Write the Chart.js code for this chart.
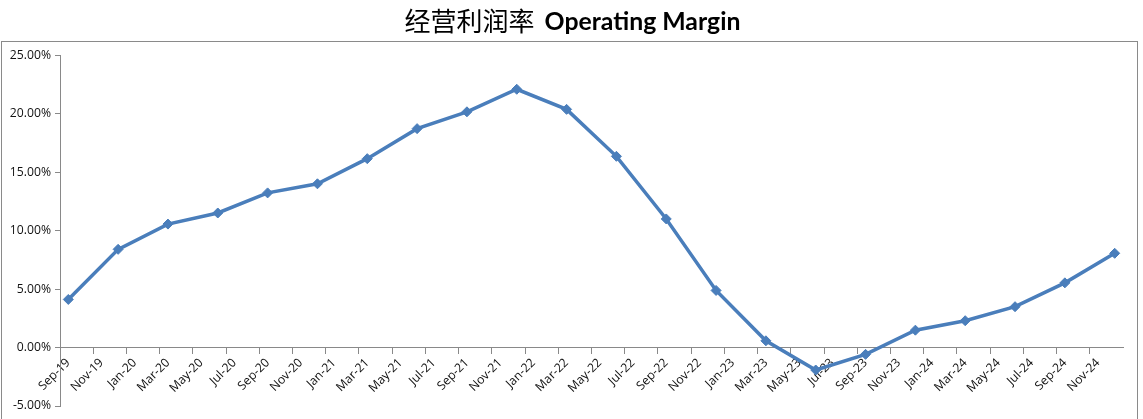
<!DOCTYPE html>
<html>
<head>
<meta charset="utf-8">
<script src="https://cdn.jsdelivr.net/npm/chart.js@4/dist/chart.umd.min.js"></script>
<style>
html,body{margin:0;padding:0;background:#fff;}
#wrap{width:1143px;height:419px;position:relative;}
</style>
</head>
<body>
<div id="wrap"><canvas id="c" width="1143" height="419"></canvas></div>
<script>
const titleCn = '经营利润率';
const titleEn = 'Operating Margin';

// monthly categories of the date axis
const months = [
  'Sep-19','Oct-19','Nov-19','Dec-19',
  'Jan-20','Feb-20','Mar-20','Apr-20','May-20','Jun-20','Jul-20','Aug-20','Sep-20','Oct-20','Nov-20','Dec-20',
  'Jan-21','Feb-21','Mar-21','Apr-21','May-21','Jun-21','Jul-21','Aug-21','Sep-21','Oct-21','Nov-21','Dec-21',
  'Jan-22','Feb-22','Mar-22','Apr-22','May-22','Jun-22','Jul-22','Aug-22','Sep-22','Oct-22','Nov-22','Dec-22',
  'Jan-23','Feb-23','Mar-23','Apr-23','May-23','Jun-23','Jul-23','Aug-23','Sep-23','Oct-23','Nov-23','Dec-23',
  'Jan-24','Feb-24','Mar-24','Apr-24','May-24','Jun-24','Jul-24','Aug-24','Sep-24','Oct-24','Nov-24','Dec-24'
];

// labels shown on the x axis
const tickLabels = [
  'Sep-19','Nov-19','Jan-20','Mar-20','May-20','Jul-20','Sep-20','Nov-20',
  'Jan-21','Mar-21','May-21','Jul-21','Sep-21','Nov-21','Jan-22','Mar-22',
  'May-22','Jul-22','Sep-22','Nov-22','Jan-23','Mar-23','May-23','Jul-23',
  'Sep-23','Nov-23','Jan-24','Mar-24','May-24','Jul-24','Sep-24','Nov-24'
];

// quarterly observations
const quarters = [
  'Sep-19','Dec-19','Mar-20','Jun-20','Sep-20','Dec-20','Mar-21','Jun-21','Sep-21','Dec-21','Mar-22',
  'Jun-22','Sep-22','Dec-22','Mar-23','Jun-23','Sep-23','Dec-23','Mar-24','Jun-24','Sep-24','Dec-24'
];
const marginPct = [
  4.12, 8.41, 10.57, 11.52, 13.24, 14.02, 16.17, 18.74, 20.18, 22.11, 20.39,
  16.37, 11.01, 4.89, 0.58, -1.92, -0.58, 1.49, 2.30, 3.50, 5.54, 8.07
];

const yTicks = [-5, 0, 5, 10, 15, 20, 25];

const seriesData = months.map(m => {
  const i = quarters.indexOf(m);
  return i >= 0 ? marginPct[i] : null;
});

const axisColor = '#898989';
const blue = '#4a7ebb';

const frameAndTitle = {
  id: 'frameAndTitle',
  beforeDraw(chart) {
    const ctx = chart.ctx;
    ctx.save();
    ctx.fillStyle = '#fff';
    ctx.fillRect(0, 0, chart.width, chart.height);
    ctx.strokeStyle = '#8a8a8a';
    ctx.lineWidth = 1;
    ctx.strokeRect(1.5, 41.5, 1136, 420);
    ctx.restore();
  },
  afterDraw(chart) {
    const ctx = chart.ctx;
    ctx.save();
    const cnFont = '26px "Noto Sans CJK SC"';
    ctx.font = 'bold 22px Lato';
    const w22 = ctx.measureText(titleEn).width;
    const enSize = 22 * 196 / w22;
    const enFont = 'bold ' + enSize.toFixed(2) + 'px Lato';
    ctx.font = cnFont;
    const cnW = ctx.measureText(titleCn).width;
    ctx.font = enFont;
    const enW = ctx.measureText(titleEn).width;
    const gap = 10;
    const total = cnW + gap + enW;
    const x0 = 572.5 - total / 2;
    ctx.fillStyle = '#000';
    ctx.textBaseline = 'alphabetic';
    ctx.textAlign = 'left';
    ctx.font = cnFont;
    ctx.fillText(titleCn, x0, 31);
    ctx.font = enFont;
    ctx.fillText(titleEn, x0 + cnW + gap, 30);
    ctx.restore();
  }
};

new Chart(document.getElementById('c'), {
  type: 'line',
  data: {
    labels: months,
    datasets: [{
      label: titleEn,
      data: seriesData,
      spanGaps: true,
      borderColor: blue,
      backgroundColor: blue,
      borderWidth: 3.5,
      pointStyle: 'rectRot',
      pointRadius: 5,
      pointBorderWidth: 1,
      pointBackgroundColor: blue,
      pointBorderColor: blue,
      tension: 0
    }]
  },
  options: {
    responsive: false,
    animation: false,
    devicePixelRatio: 1,
    layout: { padding: { top: 55.5, bottom: 13, left: 0, right: 20 } },
    plugins: {
      legend: { display: false },
      title: { display: false },
      tooltip: { enabled: false }
    },
    scales: {
      x: {
        type: 'category',
        position: { y: 0 },
        offset: true,
        grid: {
          offset: true,
          drawOnChartArea: false,
          drawTicks: true,
          tickLength: 6,
          color: c => (c.index % 2 === 0 ? axisColor : 'rgba(0,0,0,0)')
        },
        border: { display: true, color: axisColor, width: 1 },
        ticks: {
          autoSkip: false,
          maxRotation: 45,
          minRotation: 45,
          padding: 2,
          color: '#111',
          font: { family: '"Open Sans"', size: 12.2 },
          callback: function (v, i) {
            const l = months[i];
            return tickLabels.includes(l) ? l : '';
          }
        }
      },
      y: {
        min: -5,
        max: 25,
        afterFit: s => { s.width = 60; },
        afterBuildTicks: s => { s.ticks = yTicks.map(v => ({ value: v })); },
        grid: {
          drawOnChartArea: false,
          drawTicks: true,
          tickLength: 5,
          color: axisColor
        },
        border: { display: true, color: axisColor, width: 1 },
        ticks: {
          padding: 4,
          color: '#111',
          font: { family: '"Open Sans"', size: 12.2 },
          callback: v => v.toFixed(2) + '%'
        }
      }
    }
  },
  plugins: [frameAndTitle]
});
</script>
</body>
</html>
